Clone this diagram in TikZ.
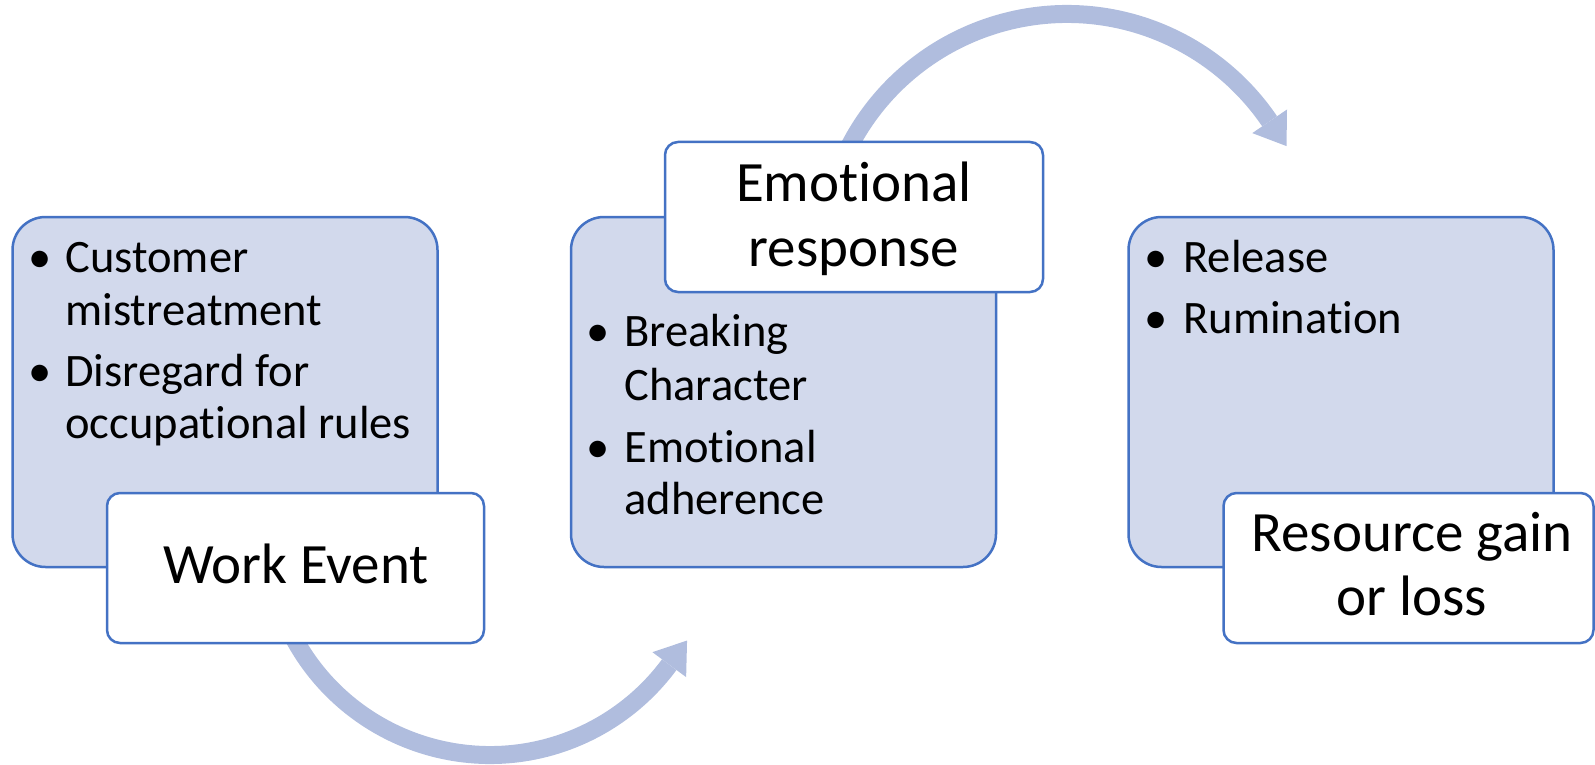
\documentclass[tikz,border=0pt]{standalone}
\usepackage{fontspec}
\setmainfont{Carlito}[Ligatures={NoCommon,NoContextual,NoRare}, Contextuals=NoAlternate]
\usetikzlibrary{calc}
\definecolor{boxfill}{RGB}{210,217,236}
\definecolor{boxline}{RGB}{68,114,196}
\definecolor{arrowc}{RGB}{176,189,222}
\begin{document}
\begin{tikzpicture}[x=0.5pt,y=-0.5pt,
  bluebox/.style={draw=boxline, fill=boxfill, line width=1.25pt, rounded corners=16.5pt, minimum width=212.5pt, minimum height=175pt, inner sep=0pt},
  whitebox/.style={draw=boxline, fill=white, line width=1.25pt, rounded corners=6.5pt, minimum height=75pt, inner sep=0pt},
  itemtext/.style={font=\fontsize{23.25}{28}\selectfont, anchor=base west, inner sep=0pt},
  bul/.style={font=\fontsize{23.25}{28}\selectfont, anchor=base, inner sep=0pt},
  title/.style={font=\fontsize{28.5}{34}\selectfont, anchor=base, inner sep=0pt},
  flow/.style={draw=arrowc, line width=9pt},
  head/.style={fill=arrowc}]

\useasboundingbox (0,0) rectangle (1595,765);

% curved arrows
\coordinate (c1) at (490,532);
\coordinate (c2) at (1067,259);
\draw[flow] ($(c1)+(154:223)$) arc[start angle=154, end angle=36.5, radius=223] coordinate (e1);
\coordinate (t1) at ($(e1)+(17.8,-24.1)$);
\fill[head] ($(c1)+(36.5:202)$) -- ($(c1)+(36.5:244)$) -- (t1) -- cycle;

\draw[flow] ($(c2)+(-154:245)$) arc[start angle=-154, end angle=-34.2, radius=245] coordinate (e2);
\coordinate (t2) at ($(e2)+(16.9,24.8)$);
\fill[head] ($(c2)+(-34.2:224)$) -- ($(c2)+(-34.2:266)$) -- (t2) -- cycle;

% boxes
\node[bluebox] (b1) at (225,392) {};
\node[bluebox] (b2) at (783.5,392) {};
\node[bluebox] (b3) at (1341,392) {};
\node[whitebox, minimum width=188.5pt] (w1) at (295.5,568) {};
\node[whitebox, minimum width=189pt] (w2) at (854,217) {};
\node[whitebox, minimum width=185pt] (w3) at (1408.5,568) {};

% box 1 bullets
\node[bul] (p1) at (40,272) {\textbullet};
\node[itemtext] (l1a) at (65,272) {Customer};
\node[itemtext] (l1b) at (65,325) {mistreatment};
\node[bul] (p2) at (40,386) {\textbullet};
\node[itemtext] (l1c) at (65,386) {Disregard for};
\node[itemtext] (l1d) at (65,438) {occupational rules};

% box 2 bullets
\node[bul] (p3) at (598,346) {\textbullet};
\node[itemtext] (l2a) at (624,346) {Breaking};
\node[itemtext] (l2b) at (624,400) {Character};
\node[bul] (p4) at (598,462) {\textbullet};
\node[itemtext] (l2c) at (624,462) {Emotional};
\node[itemtext] (l2d) at (624,514) {adherence};

% box 3 bullets
\node[bul] (p5) at (1156,272) {\textbullet};
\node[itemtext] (l3a) at (1183,272) {Release};
\node[bul] (p6) at (1156,333) {\textbullet};
\node[itemtext] (l3b) at (1183,333) {Rumination};

% titles
\node[title] (h1) at (296,583) {Work Event};
\node[title] (h2a) at (854,201) {Emotional};
\node[title] (h2b) at (854,266) {response};
\node[title] (h3a) at (1412,551) {Resource gain};
\node[title] (h3b) at (1412,615) {or loss};
\end{tikzpicture}
\end{document}
